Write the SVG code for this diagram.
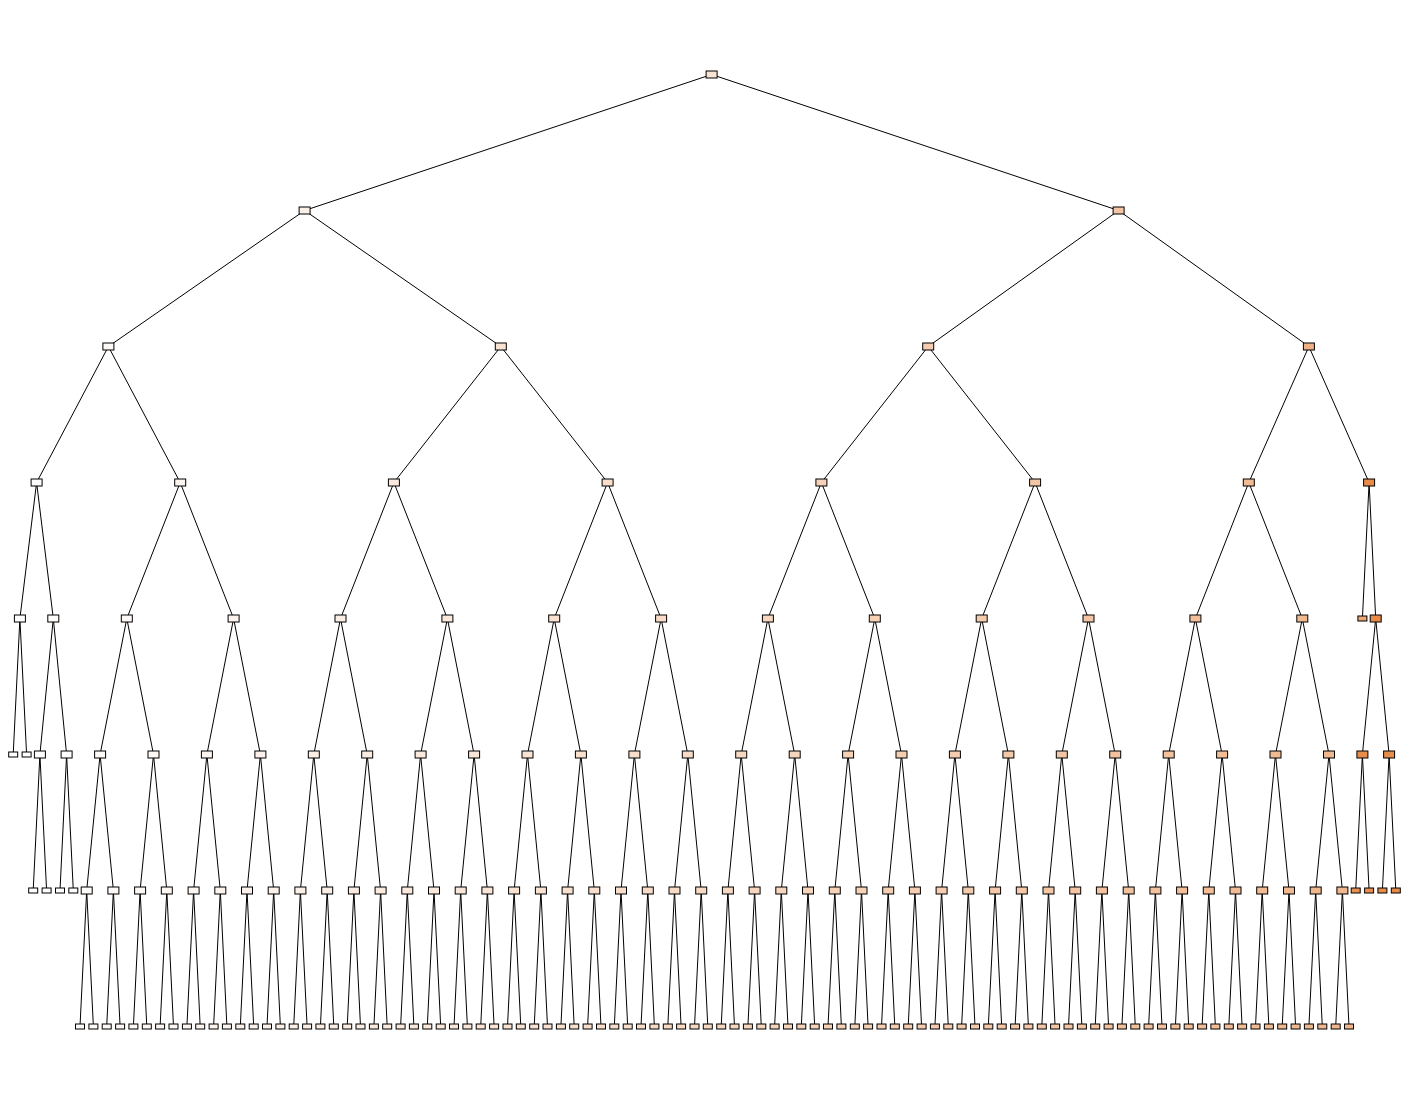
<svg xmlns="http://www.w3.org/2000/svg" width="1409" height="1101" viewBox="0 0 1409 1101">
<style>
#edges line{stroke:#000;stroke-width:1}
.box{stroke:#000;stroke-width:1}
</style>
<defs>
<rect id="I" class="box" x="-5.5" y="-3.5" width="11" height="7"/>
<rect id="L" class="box" x="-4.5" y="-2.5" width="9" height="5"/>
</defs>
<rect width="1409" height="1101" fill="#fff"/>
<g id="edges">
<line x1="711.6" y1="74.5" x2="304.6" y2="210.5"/>
<line x1="711.6" y1="74.5" x2="1118.6" y2="210.5"/>
<line x1="304.6" y1="210.5" x2="108.4" y2="346.5"/>
<line x1="304.6" y1="210.5" x2="500.8" y2="346.5"/>
<line x1="1118.6" y1="210.5" x2="928.2" y2="346.5"/>
<line x1="1118.6" y1="210.5" x2="1308.9" y2="346.5"/>
<line x1="108.4" y1="346.5" x2="36.6" y2="482.5"/>
<line x1="108.4" y1="346.5" x2="180.2" y2="482.5"/>
<line x1="500.8" y1="346.5" x2="393.9" y2="482.5"/>
<line x1="500.8" y1="346.5" x2="607.6" y2="482.5"/>
<line x1="928.2" y1="346.5" x2="821.4" y2="482.5"/>
<line x1="928.2" y1="346.5" x2="1035.1" y2="482.5"/>
<line x1="1308.9" y1="346.5" x2="1248.8" y2="482.5"/>
<line x1="1308.9" y1="346.5" x2="1369.1" y2="482.5"/>
<line x1="36.6" y1="482.5" x2="19.9" y2="618.5"/>
<line x1="36.6" y1="482.5" x2="53.3" y2="618.5"/>
<line x1="180.2" y1="482.5" x2="126.8" y2="618.5"/>
<line x1="180.2" y1="482.5" x2="233.6" y2="618.5"/>
<line x1="393.9" y1="482.5" x2="340.5" y2="618.5"/>
<line x1="393.9" y1="482.5" x2="447.4" y2="618.5"/>
<line x1="607.6" y1="482.5" x2="554.2" y2="618.5"/>
<line x1="607.6" y1="482.5" x2="661.1" y2="618.5"/>
<line x1="821.4" y1="482.5" x2="767.9" y2="618.5"/>
<line x1="821.4" y1="482.5" x2="874.8" y2="618.5"/>
<line x1="1035.1" y1="482.5" x2="981.7" y2="618.5"/>
<line x1="1035.1" y1="482.5" x2="1088.5" y2="618.5"/>
<line x1="1248.8" y1="482.5" x2="1195.4" y2="618.5"/>
<line x1="1248.8" y1="482.5" x2="1302.3" y2="618.5"/>
<line x1="1369.1" y1="482.5" x2="1362.4" y2="618.5"/>
<line x1="1369.1" y1="482.5" x2="1375.7" y2="618.5"/>
<line x1="19.9" y1="618.5" x2="13.2" y2="754.5"/>
<line x1="19.9" y1="618.5" x2="26.6" y2="754.5"/>
<line x1="53.3" y1="618.5" x2="39.9" y2="754.5"/>
<line x1="53.3" y1="618.5" x2="66.6" y2="754.5"/>
<line x1="126.8" y1="618.5" x2="100.1" y2="754.5"/>
<line x1="126.8" y1="618.5" x2="153.5" y2="754.5"/>
<line x1="233.6" y1="618.5" x2="206.9" y2="754.5"/>
<line x1="233.6" y1="618.5" x2="260.4" y2="754.5"/>
<line x1="340.5" y1="618.5" x2="313.8" y2="754.5"/>
<line x1="340.5" y1="618.5" x2="367.2" y2="754.5"/>
<line x1="447.4" y1="618.5" x2="420.6" y2="754.5"/>
<line x1="447.4" y1="618.5" x2="474.1" y2="754.5"/>
<line x1="554.2" y1="618.5" x2="527.5" y2="754.5"/>
<line x1="554.2" y1="618.5" x2="580.9" y2="754.5"/>
<line x1="661.1" y1="618.5" x2="634.4" y2="754.5"/>
<line x1="661.1" y1="618.5" x2="687.8" y2="754.5"/>
<line x1="767.9" y1="618.5" x2="741.2" y2="754.5"/>
<line x1="767.9" y1="618.5" x2="794.7" y2="754.5"/>
<line x1="874.8" y1="618.5" x2="848.1" y2="754.5"/>
<line x1="874.8" y1="618.5" x2="901.5" y2="754.5"/>
<line x1="981.7" y1="618.5" x2="954.9" y2="754.5"/>
<line x1="981.7" y1="618.5" x2="1008.4" y2="754.5"/>
<line x1="1088.5" y1="618.5" x2="1061.8" y2="754.5"/>
<line x1="1088.5" y1="618.5" x2="1115.2" y2="754.5"/>
<line x1="1195.4" y1="618.5" x2="1168.7" y2="754.5"/>
<line x1="1195.4" y1="618.5" x2="1222.1" y2="754.5"/>
<line x1="1302.3" y1="618.5" x2="1275.5" y2="754.5"/>
<line x1="1302.3" y1="618.5" x2="1329.0" y2="754.5"/>
<line x1="1375.7" y1="618.5" x2="1362.4" y2="754.5"/>
<line x1="1375.7" y1="618.5" x2="1389.1" y2="754.5"/>
<line x1="39.9" y1="754.5" x2="33.2" y2="890.5"/>
<line x1="39.9" y1="754.5" x2="46.6" y2="890.5"/>
<line x1="66.6" y1="754.5" x2="60.0" y2="890.5"/>
<line x1="66.6" y1="754.5" x2="73.3" y2="890.5"/>
<line x1="100.1" y1="754.5" x2="86.7" y2="890.5"/>
<line x1="100.1" y1="754.5" x2="113.4" y2="890.5"/>
<line x1="153.5" y1="754.5" x2="140.1" y2="890.5"/>
<line x1="153.5" y1="754.5" x2="166.8" y2="890.5"/>
<line x1="206.9" y1="754.5" x2="193.6" y2="890.5"/>
<line x1="206.9" y1="754.5" x2="220.3" y2="890.5"/>
<line x1="260.4" y1="754.5" x2="247.0" y2="890.5"/>
<line x1="260.4" y1="754.5" x2="273.7" y2="890.5"/>
<line x1="313.8" y1="754.5" x2="300.4" y2="890.5"/>
<line x1="313.8" y1="754.5" x2="327.2" y2="890.5"/>
<line x1="367.2" y1="754.5" x2="353.9" y2="890.5"/>
<line x1="367.2" y1="754.5" x2="380.6" y2="890.5"/>
<line x1="420.6" y1="754.5" x2="407.3" y2="890.5"/>
<line x1="420.6" y1="754.5" x2="434.0" y2="890.5"/>
<line x1="474.1" y1="754.5" x2="460.7" y2="890.5"/>
<line x1="474.1" y1="754.5" x2="487.4" y2="890.5"/>
<line x1="527.5" y1="754.5" x2="514.1" y2="890.5"/>
<line x1="527.5" y1="754.5" x2="540.9" y2="890.5"/>
<line x1="580.9" y1="754.5" x2="567.6" y2="890.5"/>
<line x1="580.9" y1="754.5" x2="594.3" y2="890.5"/>
<line x1="634.4" y1="754.5" x2="621.0" y2="890.5"/>
<line x1="634.4" y1="754.5" x2="647.8" y2="890.5"/>
<line x1="687.8" y1="754.5" x2="674.5" y2="890.5"/>
<line x1="687.8" y1="754.5" x2="701.2" y2="890.5"/>
<line x1="741.2" y1="754.5" x2="727.9" y2="890.5"/>
<line x1="741.2" y1="754.5" x2="754.6" y2="890.5"/>
<line x1="794.7" y1="754.5" x2="781.3" y2="890.5"/>
<line x1="794.7" y1="754.5" x2="808.0" y2="890.5"/>
<line x1="848.1" y1="754.5" x2="834.8" y2="890.5"/>
<line x1="848.1" y1="754.5" x2="861.5" y2="890.5"/>
<line x1="901.5" y1="754.5" x2="888.2" y2="890.5"/>
<line x1="901.5" y1="754.5" x2="914.9" y2="890.5"/>
<line x1="954.9" y1="754.5" x2="941.6" y2="890.5"/>
<line x1="954.9" y1="754.5" x2="968.3" y2="890.5"/>
<line x1="1008.4" y1="754.5" x2="995.1" y2="890.5"/>
<line x1="1008.4" y1="754.5" x2="1021.8" y2="890.5"/>
<line x1="1061.8" y1="754.5" x2="1048.5" y2="890.5"/>
<line x1="1061.8" y1="754.5" x2="1075.2" y2="890.5"/>
<line x1="1115.2" y1="754.5" x2="1101.9" y2="890.5"/>
<line x1="1115.2" y1="754.5" x2="1128.7" y2="890.5"/>
<line x1="1168.7" y1="754.5" x2="1155.4" y2="890.5"/>
<line x1="1168.7" y1="754.5" x2="1182.1" y2="890.5"/>
<line x1="1222.1" y1="754.5" x2="1208.8" y2="890.5"/>
<line x1="1222.1" y1="754.5" x2="1235.5" y2="890.5"/>
<line x1="1275.5" y1="754.5" x2="1262.2" y2="890.5"/>
<line x1="1275.5" y1="754.5" x2="1289.0" y2="890.5"/>
<line x1="1329.0" y1="754.5" x2="1315.7" y2="890.5"/>
<line x1="1329.0" y1="754.5" x2="1342.4" y2="890.5"/>
<line x1="1362.4" y1="754.5" x2="1355.7" y2="890.5"/>
<line x1="1362.4" y1="754.5" x2="1369.1" y2="890.5"/>
<line x1="1389.1" y1="754.5" x2="1382.4" y2="890.5"/>
<line x1="1389.1" y1="754.5" x2="1395.8" y2="890.5"/>
<line x1="86.7" y1="890.5" x2="80.0" y2="1026.5"/>
<line x1="86.7" y1="890.5" x2="93.4" y2="1026.5"/>
<line x1="113.4" y1="890.5" x2="106.7" y2="1026.5"/>
<line x1="113.4" y1="890.5" x2="120.1" y2="1026.5"/>
<line x1="140.1" y1="890.5" x2="133.4" y2="1026.5"/>
<line x1="140.1" y1="890.5" x2="146.8" y2="1026.5"/>
<line x1="166.8" y1="890.5" x2="160.1" y2="1026.5"/>
<line x1="166.8" y1="890.5" x2="173.5" y2="1026.5"/>
<line x1="193.6" y1="890.5" x2="186.9" y2="1026.5"/>
<line x1="193.6" y1="890.5" x2="200.2" y2="1026.5"/>
<line x1="220.3" y1="890.5" x2="213.6" y2="1026.5"/>
<line x1="220.3" y1="890.5" x2="226.9" y2="1026.5"/>
<line x1="247.0" y1="890.5" x2="240.3" y2="1026.5"/>
<line x1="247.0" y1="890.5" x2="253.7" y2="1026.5"/>
<line x1="273.7" y1="890.5" x2="267.0" y2="1026.5"/>
<line x1="273.7" y1="890.5" x2="280.4" y2="1026.5"/>
<line x1="300.4" y1="890.5" x2="293.7" y2="1026.5"/>
<line x1="300.4" y1="890.5" x2="307.1" y2="1026.5"/>
<line x1="327.2" y1="890.5" x2="320.4" y2="1026.5"/>
<line x1="327.2" y1="890.5" x2="333.8" y2="1026.5"/>
<line x1="353.9" y1="890.5" x2="347.2" y2="1026.5"/>
<line x1="353.9" y1="890.5" x2="360.5" y2="1026.5"/>
<line x1="380.6" y1="890.5" x2="373.9" y2="1026.5"/>
<line x1="380.6" y1="890.5" x2="387.2" y2="1026.5"/>
<line x1="407.3" y1="890.5" x2="400.6" y2="1026.5"/>
<line x1="407.3" y1="890.5" x2="413.9" y2="1026.5"/>
<line x1="434.0" y1="890.5" x2="427.3" y2="1026.5"/>
<line x1="434.0" y1="890.5" x2="440.7" y2="1026.5"/>
<line x1="460.7" y1="890.5" x2="454.0" y2="1026.5"/>
<line x1="460.7" y1="890.5" x2="467.4" y2="1026.5"/>
<line x1="487.4" y1="890.5" x2="480.7" y2="1026.5"/>
<line x1="487.4" y1="890.5" x2="494.1" y2="1026.5"/>
<line x1="514.1" y1="890.5" x2="507.5" y2="1026.5"/>
<line x1="514.1" y1="890.5" x2="520.8" y2="1026.5"/>
<line x1="540.9" y1="890.5" x2="534.2" y2="1026.5"/>
<line x1="540.9" y1="890.5" x2="547.5" y2="1026.5"/>
<line x1="567.6" y1="890.5" x2="560.9" y2="1026.5"/>
<line x1="567.6" y1="890.5" x2="574.2" y2="1026.5"/>
<line x1="594.3" y1="890.5" x2="587.6" y2="1026.5"/>
<line x1="594.3" y1="890.5" x2="601.0" y2="1026.5"/>
<line x1="621.0" y1="890.5" x2="614.3" y2="1026.5"/>
<line x1="621.0" y1="890.5" x2="627.7" y2="1026.5"/>
<line x1="647.8" y1="890.5" x2="641.0" y2="1026.5"/>
<line x1="647.8" y1="890.5" x2="654.4" y2="1026.5"/>
<line x1="674.5" y1="890.5" x2="667.8" y2="1026.5"/>
<line x1="674.5" y1="890.5" x2="681.1" y2="1026.5"/>
<line x1="701.2" y1="890.5" x2="694.5" y2="1026.5"/>
<line x1="701.2" y1="890.5" x2="707.8" y2="1026.5"/>
<line x1="727.9" y1="890.5" x2="721.2" y2="1026.5"/>
<line x1="727.9" y1="890.5" x2="734.5" y2="1026.5"/>
<line x1="754.6" y1="890.5" x2="747.9" y2="1026.5"/>
<line x1="754.6" y1="890.5" x2="761.3" y2="1026.5"/>
<line x1="781.3" y1="890.5" x2="774.6" y2="1026.5"/>
<line x1="781.3" y1="890.5" x2="788.0" y2="1026.5"/>
<line x1="808.0" y1="890.5" x2="801.3" y2="1026.5"/>
<line x1="808.0" y1="890.5" x2="814.7" y2="1026.5"/>
<line x1="834.8" y1="890.5" x2="828.0" y2="1026.5"/>
<line x1="834.8" y1="890.5" x2="841.4" y2="1026.5"/>
<line x1="861.5" y1="890.5" x2="854.8" y2="1026.5"/>
<line x1="861.5" y1="890.5" x2="868.1" y2="1026.5"/>
<line x1="888.2" y1="890.5" x2="881.5" y2="1026.5"/>
<line x1="888.2" y1="890.5" x2="894.8" y2="1026.5"/>
<line x1="914.9" y1="890.5" x2="908.2" y2="1026.5"/>
<line x1="914.9" y1="890.5" x2="921.6" y2="1026.5"/>
<line x1="941.6" y1="890.5" x2="934.9" y2="1026.5"/>
<line x1="941.6" y1="890.5" x2="948.3" y2="1026.5"/>
<line x1="968.3" y1="890.5" x2="961.6" y2="1026.5"/>
<line x1="968.3" y1="890.5" x2="975.0" y2="1026.5"/>
<line x1="995.1" y1="890.5" x2="988.3" y2="1026.5"/>
<line x1="995.1" y1="890.5" x2="1001.7" y2="1026.5"/>
<line x1="1021.8" y1="890.5" x2="1015.1" y2="1026.5"/>
<line x1="1021.8" y1="890.5" x2="1028.4" y2="1026.5"/>
<line x1="1048.5" y1="890.5" x2="1041.8" y2="1026.5"/>
<line x1="1048.5" y1="890.5" x2="1055.1" y2="1026.5"/>
<line x1="1075.2" y1="890.5" x2="1068.5" y2="1026.5"/>
<line x1="1075.2" y1="890.5" x2="1081.9" y2="1026.5"/>
<line x1="1101.9" y1="890.5" x2="1095.2" y2="1026.5"/>
<line x1="1101.9" y1="890.5" x2="1108.6" y2="1026.5"/>
<line x1="1128.7" y1="890.5" x2="1121.9" y2="1026.5"/>
<line x1="1128.7" y1="890.5" x2="1135.3" y2="1026.5"/>
<line x1="1155.4" y1="890.5" x2="1148.6" y2="1026.5"/>
<line x1="1155.4" y1="890.5" x2="1162.0" y2="1026.5"/>
<line x1="1182.1" y1="890.5" x2="1175.4" y2="1026.5"/>
<line x1="1182.1" y1="890.5" x2="1188.7" y2="1026.5"/>
<line x1="1208.8" y1="890.5" x2="1202.1" y2="1026.5"/>
<line x1="1208.8" y1="890.5" x2="1215.4" y2="1026.5"/>
<line x1="1235.5" y1="890.5" x2="1228.8" y2="1026.5"/>
<line x1="1235.5" y1="890.5" x2="1242.1" y2="1026.5"/>
<line x1="1262.2" y1="890.5" x2="1255.5" y2="1026.5"/>
<line x1="1262.2" y1="890.5" x2="1268.9" y2="1026.5"/>
<line x1="1289.0" y1="890.5" x2="1282.2" y2="1026.5"/>
<line x1="1289.0" y1="890.5" x2="1295.6" y2="1026.5"/>
<line x1="1315.7" y1="890.5" x2="1308.9" y2="1026.5"/>
<line x1="1315.7" y1="890.5" x2="1322.3" y2="1026.5"/>
<line x1="1342.4" y1="890.5" x2="1335.7" y2="1026.5"/>
<line x1="1342.4" y1="890.5" x2="1349.0" y2="1026.5"/>
</g>
<g id="nodes">
<g id="n-root"><use href="#I" x="711.6" y="74.5" fill="#f9e3d3"/></g>
<g id="n-A"><use href="#I" x="304.6" y="210.5" fill="#fcf1e8"/></g>
<g id="n-B"><use href="#I" x="1118.6" y="210.5" fill="#f3c5a4"/></g>
<g id="n-A1"><use href="#I" x="108.4" y="346.5" fill="#fefaf7"/></g>
<g id="n-A2"><use href="#I" x="500.8" y="346.5" fill="#f9e4d4"/></g>
<g id="n-B1"><use href="#I" x="928.2" y="346.5" fill="#f5ccaf"/></g>
<g id="n-B2"><use href="#I" x="1308.9" y="346.5" fill="#efb184"/></g>
<g id="n-c0"><use href="#I" x="36.6" y="482.5" fill="#fffefd"/></g>
<g id="n-c1"><use href="#I" x="180.2" y="482.5" fill="#fdf5ef"/></g>
<g id="n-c2"><use href="#I" x="393.9" y="482.5" fill="#fbe9dd"/></g>
<g id="n-c3"><use href="#I" x="607.6" y="482.5" fill="#f8decb"/></g>
<g id="n-c4"><use href="#I" x="821.4" y="482.5" fill="#f6d2b8"/></g>
<g id="n-c5"><use href="#I" x="1035.1" y="482.5" fill="#f3c6a6"/></g>
<g id="n-c6"><use href="#I" x="1248.8" y="482.5" fill="#f1bb94"/></g>
<g id="n-c7"><use href="#I" x="1369.1" y="482.5" fill="#e78b49"/></g>
<g id="n-dl0"><use href="#I" x="19.9" y="618.5" fill="#ffffff"/></g>
<g id="n-dl1"><use href="#I" x="53.3" y="618.5" fill="#fffefc"/></g>
<g id="n-d0"><use href="#I" x="126.8" y="618.5" fill="#fef9f6"/></g>
<g id="n-d1"><use href="#I" x="233.6" y="618.5" fill="#fdf4ed"/></g>
<g id="n-d2"><use href="#I" x="340.5" y="618.5" fill="#fbeee4"/></g>
<g id="n-d3"><use href="#I" x="447.4" y="618.5" fill="#fae8db"/></g>
<g id="n-d4"><use href="#I" x="554.2" y="618.5" fill="#f9e2d2"/></g>
<g id="n-d5"><use href="#I" x="661.1" y="618.5" fill="#f8dcc8"/></g>
<g id="n-d6"><use href="#I" x="767.9" y="618.5" fill="#f7d6bf"/></g>
<g id="n-d7"><use href="#I" x="874.8" y="618.5" fill="#f5d1b6"/></g>
<g id="n-d8"><use href="#I" x="981.7" y="618.5" fill="#f4cbad"/></g>
<g id="n-d9"><use href="#I" x="1088.5" y="618.5" fill="#f3c5a4"/></g>
<g id="n-d10"><use href="#I" x="1195.4" y="618.5" fill="#f2bf9a"/></g>
<g id="n-d11"><use href="#I" x="1302.3" y="618.5" fill="#f1b991"/></g>
<g id="n-dr0"><use href="#L" x="1362.4" y="618.5" fill="#eda774"/></g>
<g id="n-dr1"><use href="#I" x="1375.7" y="618.5" fill="#e78b49"/></g>
<g id="n-el0"><use href="#L" x="13.2" y="754.5" fill="#ffffff"/></g>
<g id="n-el1"><use href="#L" x="26.6" y="754.5" fill="#ffffff"/></g>
<g id="n-el2"><use href="#I" x="39.9" y="754.5" fill="#fffefd"/></g>
<g id="n-el3"><use href="#I" x="66.6" y="754.5" fill="#fffdfb"/></g>
<g id="n-e0"><use href="#I" x="100.1" y="754.5" fill="#fefbf8"/></g>
<g id="n-e1"><use href="#I" x="153.5" y="754.5" fill="#fef8f4"/></g>
<g id="n-e2"><use href="#I" x="206.9" y="754.5" fill="#fdf5ef"/></g>
<g id="n-e3"><use href="#I" x="260.4" y="754.5" fill="#fcf2eb"/></g>
<g id="n-e4"><use href="#I" x="313.8" y="754.5" fill="#fcefe6"/></g>
<g id="n-e5"><use href="#I" x="367.2" y="754.5" fill="#fbece2"/></g>
<g id="n-e6"><use href="#I" x="420.6" y="754.5" fill="#fbe9dd"/></g>
<g id="n-e7"><use href="#I" x="474.1" y="754.5" fill="#fae6d8"/></g>
<g id="n-e8"><use href="#I" x="527.5" y="754.5" fill="#f9e4d4"/></g>
<g id="n-e9"><use href="#I" x="580.9" y="754.5" fill="#f9e1cf"/></g>
<g id="n-e10"><use href="#I" x="634.4" y="754.5" fill="#f8decb"/></g>
<g id="n-e11"><use href="#I" x="687.8" y="754.5" fill="#f8dbc6"/></g>
<g id="n-e12"><use href="#I" x="741.2" y="754.5" fill="#f7d8c1"/></g>
<g id="n-e13"><use href="#I" x="794.7" y="754.5" fill="#f6d5bd"/></g>
<g id="n-e14"><use href="#I" x="848.1" y="754.5" fill="#f6d2b8"/></g>
<g id="n-e15"><use href="#I" x="901.5" y="754.5" fill="#f5cfb4"/></g>
<g id="n-e16"><use href="#I" x="954.9" y="754.5" fill="#f5ccaf"/></g>
<g id="n-e17"><use href="#I" x="1008.4" y="754.5" fill="#f4c9aa"/></g>
<g id="n-e18"><use href="#I" x="1061.8" y="754.5" fill="#f3c6a6"/></g>
<g id="n-e19"><use href="#I" x="1115.2" y="754.5" fill="#f3c3a1"/></g>
<g id="n-e20"><use href="#I" x="1168.7" y="754.5" fill="#f2c19d"/></g>
<g id="n-e21"><use href="#I" x="1222.1" y="754.5" fill="#f2be98"/></g>
<g id="n-e22"><use href="#I" x="1275.5" y="754.5" fill="#f1bb94"/></g>
<g id="n-e23"><use href="#I" x="1329.0" y="754.5" fill="#f0b88f"/></g>
<g id="n-er0"><use href="#I" x="1362.4" y="754.5" fill="#e88e4d"/></g>
<g id="n-er1"><use href="#I" x="1389.1" y="754.5" fill="#e88e4d"/></g>
<g id="n-fl0"><use href="#L" x="33.2" y="890.5" fill="#fffefd"/></g>
<g id="n-fl1"><use href="#L" x="46.6" y="890.5" fill="#fffefd"/></g>
<g id="n-fl2"><use href="#L" x="60.0" y="890.5" fill="#fffdfb"/></g>
<g id="n-fl3"><use href="#L" x="73.3" y="890.5" fill="#fffdfb"/></g>
<g id="n-f0"><use href="#I" x="86.7" y="890.5" fill="#fefbf8"/></g>
<g id="n-f1"><use href="#I" x="113.4" y="890.5" fill="#fef9f6"/></g>
<g id="n-f2"><use href="#I" x="140.1" y="890.5" fill="#fef8f4"/></g>
<g id="n-f3"><use href="#I" x="166.8" y="890.5" fill="#fdf6f2"/></g>
<g id="n-f4"><use href="#I" x="193.6" y="890.5" fill="#fdf5ef"/></g>
<g id="n-f5"><use href="#I" x="220.3" y="890.5" fill="#fdf4ed"/></g>
<g id="n-f6"><use href="#I" x="247.0" y="890.5" fill="#fcf2eb"/></g>
<g id="n-f7"><use href="#I" x="273.7" y="890.5" fill="#fcf1e8"/></g>
<g id="n-f8"><use href="#I" x="300.4" y="890.5" fill="#fcefe6"/></g>
<g id="n-f9"><use href="#I" x="327.2" y="890.5" fill="#fbeee4"/></g>
<g id="n-f10"><use href="#I" x="353.9" y="890.5" fill="#fbece2"/></g>
<g id="n-f11"><use href="#I" x="380.6" y="890.5" fill="#fbebdf"/></g>
<g id="n-f12"><use href="#I" x="407.3" y="890.5" fill="#fbe9dd"/></g>
<g id="n-f13"><use href="#I" x="434.0" y="890.5" fill="#fae8db"/></g>
<g id="n-f14"><use href="#I" x="460.7" y="890.5" fill="#fae6d8"/></g>
<g id="n-f15"><use href="#I" x="487.4" y="890.5" fill="#fae5d6"/></g>
<g id="n-f16"><use href="#I" x="514.1" y="890.5" fill="#f9e4d4"/></g>
<g id="n-f17"><use href="#I" x="540.9" y="890.5" fill="#f9e2d2"/></g>
<g id="n-f18"><use href="#I" x="567.6" y="890.5" fill="#f9e1cf"/></g>
<g id="n-f19"><use href="#I" x="594.3" y="890.5" fill="#f8dfcd"/></g>
<g id="n-f20"><use href="#I" x="621.0" y="890.5" fill="#f8decb"/></g>
<g id="n-f21"><use href="#I" x="647.8" y="890.5" fill="#f8dcc8"/></g>
<g id="n-f22"><use href="#I" x="674.5" y="890.5" fill="#f8dbc6"/></g>
<g id="n-f23"><use href="#I" x="701.2" y="890.5" fill="#f7d9c4"/></g>
<g id="n-f24"><use href="#I" x="727.9" y="890.5" fill="#f7d8c1"/></g>
<g id="n-f25"><use href="#I" x="754.6" y="890.5" fill="#f7d6bf"/></g>
<g id="n-f26"><use href="#I" x="781.3" y="890.5" fill="#f6d5bd"/></g>
<g id="n-f27"><use href="#I" x="808.0" y="890.5" fill="#f6d3bb"/></g>
<g id="n-f28"><use href="#I" x="834.8" y="890.5" fill="#f6d2b8"/></g>
<g id="n-f29"><use href="#I" x="861.5" y="890.5" fill="#f5d1b6"/></g>
<g id="n-f30"><use href="#I" x="888.2" y="890.5" fill="#f5cfb4"/></g>
<g id="n-f31"><use href="#I" x="914.9" y="890.5" fill="#f5ceb1"/></g>
<g id="n-f32"><use href="#I" x="941.6" y="890.5" fill="#f5ccaf"/></g>
<g id="n-f33"><use href="#I" x="968.3" y="890.5" fill="#f4cbad"/></g>
<g id="n-f34"><use href="#I" x="995.1" y="890.5" fill="#f4c9aa"/></g>
<g id="n-f35"><use href="#I" x="1021.8" y="890.5" fill="#f4c8a8"/></g>
<g id="n-f36"><use href="#I" x="1048.5" y="890.5" fill="#f3c6a6"/></g>
<g id="n-f37"><use href="#I" x="1075.2" y="890.5" fill="#f3c5a4"/></g>
<g id="n-f38"><use href="#I" x="1101.9" y="890.5" fill="#f3c3a1"/></g>
<g id="n-f39"><use href="#I" x="1128.7" y="890.5" fill="#f2c29f"/></g>
<g id="n-f40"><use href="#I" x="1155.4" y="890.5" fill="#f2c19d"/></g>
<g id="n-f41"><use href="#I" x="1182.1" y="890.5" fill="#f2bf9a"/></g>
<g id="n-f42"><use href="#I" x="1208.8" y="890.5" fill="#f2be98"/></g>
<g id="n-f43"><use href="#I" x="1235.5" y="890.5" fill="#f1bc96"/></g>
<g id="n-f44"><use href="#I" x="1262.2" y="890.5" fill="#f1bb94"/></g>
<g id="n-f45"><use href="#I" x="1289.0" y="890.5" fill="#f1b991"/></g>
<g id="n-f46"><use href="#I" x="1315.7" y="890.5" fill="#f0b88f"/></g>
<g id="n-f47"><use href="#I" x="1342.4" y="890.5" fill="#f0b68d"/></g>
<g id="n-fr0"><use href="#L" x="1355.7" y="890.5" fill="#e89051"/></g>
<g id="n-fr1"><use href="#L" x="1369.1" y="890.5" fill="#e89051"/></g>
<g id="n-fr2"><use href="#L" x="1382.4" y="890.5" fill="#e78d4c"/></g>
<g id="n-fr3"><use href="#L" x="1395.8" y="890.5" fill="#e68a48"/></g>
<g id="n-g0"><use href="#L" x="80.0" y="1026.5" fill="#fefbf8"/></g>
<g id="n-g1"><use href="#L" x="93.4" y="1026.5" fill="#fefbf8"/></g>
<g id="n-g2"><use href="#L" x="106.7" y="1026.5" fill="#fef9f6"/></g>
<g id="n-g3"><use href="#L" x="120.1" y="1026.5" fill="#fef9f6"/></g>
<g id="n-g4"><use href="#L" x="133.4" y="1026.5" fill="#fef8f4"/></g>
<g id="n-g5"><use href="#L" x="146.8" y="1026.5" fill="#fef8f4"/></g>
<g id="n-g6"><use href="#L" x="160.1" y="1026.5" fill="#fdf6f2"/></g>
<g id="n-g7"><use href="#L" x="173.5" y="1026.5" fill="#fdf6f2"/></g>
<g id="n-g8"><use href="#L" x="186.9" y="1026.5" fill="#fdf5ef"/></g>
<g id="n-g9"><use href="#L" x="200.2" y="1026.5" fill="#fdf5ef"/></g>
<g id="n-g10"><use href="#L" x="213.6" y="1026.5" fill="#fdf4ed"/></g>
<g id="n-g11"><use href="#L" x="226.9" y="1026.5" fill="#fdf4ed"/></g>
<g id="n-g12"><use href="#L" x="240.3" y="1026.5" fill="#fcf2eb"/></g>
<g id="n-g13"><use href="#L" x="253.7" y="1026.5" fill="#fcf2eb"/></g>
<g id="n-g14"><use href="#L" x="267.0" y="1026.5" fill="#fcf1e8"/></g>
<g id="n-g15"><use href="#L" x="280.4" y="1026.5" fill="#fcf1e8"/></g>
<g id="n-g16"><use href="#L" x="293.7" y="1026.5" fill="#fcefe6"/></g>
<g id="n-g17"><use href="#L" x="307.1" y="1026.5" fill="#fcefe6"/></g>
<g id="n-g18"><use href="#L" x="320.4" y="1026.5" fill="#fbeee4"/></g>
<g id="n-g19"><use href="#L" x="333.8" y="1026.5" fill="#fbeee4"/></g>
<g id="n-g20"><use href="#L" x="347.2" y="1026.5" fill="#fbece2"/></g>
<g id="n-g21"><use href="#L" x="360.5" y="1026.5" fill="#fbece2"/></g>
<g id="n-g22"><use href="#L" x="373.9" y="1026.5" fill="#fbebdf"/></g>
<g id="n-g23"><use href="#L" x="387.2" y="1026.5" fill="#fbebdf"/></g>
<g id="n-g24"><use href="#L" x="400.6" y="1026.5" fill="#fbe9dd"/></g>
<g id="n-g25"><use href="#L" x="413.9" y="1026.5" fill="#fbe9dd"/></g>
<g id="n-g26"><use href="#L" x="427.3" y="1026.5" fill="#fae8db"/></g>
<g id="n-g27"><use href="#L" x="440.7" y="1026.5" fill="#fae8db"/></g>
<g id="n-g28"><use href="#L" x="454.0" y="1026.5" fill="#fae6d8"/></g>
<g id="n-g29"><use href="#L" x="467.4" y="1026.5" fill="#fae6d8"/></g>
<g id="n-g30"><use href="#L" x="480.7" y="1026.5" fill="#fae5d6"/></g>
<g id="n-g31"><use href="#L" x="494.1" y="1026.5" fill="#fae5d6"/></g>
<g id="n-g32"><use href="#L" x="507.5" y="1026.5" fill="#f9e4d4"/></g>
<g id="n-g33"><use href="#L" x="520.8" y="1026.5" fill="#f9e4d4"/></g>
<g id="n-g34"><use href="#L" x="534.2" y="1026.5" fill="#f9e2d2"/></g>
<g id="n-g35"><use href="#L" x="547.5" y="1026.5" fill="#f9e2d2"/></g>
<g id="n-g36"><use href="#L" x="560.9" y="1026.5" fill="#f9e1cf"/></g>
<g id="n-g37"><use href="#L" x="574.2" y="1026.5" fill="#f9e1cf"/></g>
<g id="n-g38"><use href="#L" x="587.6" y="1026.5" fill="#f8dfcd"/></g>
<g id="n-g39"><use href="#L" x="601.0" y="1026.5" fill="#f8dfcd"/></g>
<g id="n-g40"><use href="#L" x="614.3" y="1026.5" fill="#f8decb"/></g>
<g id="n-g41"><use href="#L" x="627.7" y="1026.5" fill="#f8decb"/></g>
<g id="n-g42"><use href="#L" x="641.0" y="1026.5" fill="#f8dcc8"/></g>
<g id="n-g43"><use href="#L" x="654.4" y="1026.5" fill="#f8dcc8"/></g>
<g id="n-g44"><use href="#L" x="667.8" y="1026.5" fill="#f8dbc6"/></g>
<g id="n-g45"><use href="#L" x="681.1" y="1026.5" fill="#f8dbc6"/></g>
<g id="n-g46"><use href="#L" x="694.5" y="1026.5" fill="#f7d9c4"/></g>
<g id="n-g47"><use href="#L" x="707.8" y="1026.5" fill="#f7d9c4"/></g>
<g id="n-g48"><use href="#L" x="721.2" y="1026.5" fill="#f7d8c1"/></g>
<g id="n-g49"><use href="#L" x="734.5" y="1026.5" fill="#f7d8c1"/></g>
<g id="n-g50"><use href="#L" x="747.9" y="1026.5" fill="#f7d6bf"/></g>
<g id="n-g51"><use href="#L" x="761.3" y="1026.5" fill="#f7d6bf"/></g>
<g id="n-g52"><use href="#L" x="774.6" y="1026.5" fill="#f6d5bd"/></g>
<g id="n-g53"><use href="#L" x="788.0" y="1026.5" fill="#f6d5bd"/></g>
<g id="n-g54"><use href="#L" x="801.3" y="1026.5" fill="#f6d3bb"/></g>
<g id="n-g55"><use href="#L" x="814.7" y="1026.5" fill="#f6d3bb"/></g>
<g id="n-g56"><use href="#L" x="828.0" y="1026.5" fill="#f6d2b8"/></g>
<g id="n-g57"><use href="#L" x="841.4" y="1026.5" fill="#f6d2b8"/></g>
<g id="n-g58"><use href="#L" x="854.8" y="1026.5" fill="#f5d1b6"/></g>
<g id="n-g59"><use href="#L" x="868.1" y="1026.5" fill="#f5d1b6"/></g>
<g id="n-g60"><use href="#L" x="881.5" y="1026.5" fill="#f5cfb4"/></g>
<g id="n-g61"><use href="#L" x="894.8" y="1026.5" fill="#f5cfb4"/></g>
<g id="n-g62"><use href="#L" x="908.2" y="1026.5" fill="#f5ceb1"/></g>
<g id="n-g63"><use href="#L" x="921.6" y="1026.5" fill="#f5ceb1"/></g>
<g id="n-g64"><use href="#L" x="934.9" y="1026.5" fill="#f5ccaf"/></g>
<g id="n-g65"><use href="#L" x="948.3" y="1026.5" fill="#f5ccaf"/></g>
<g id="n-g66"><use href="#L" x="961.6" y="1026.5" fill="#f4cbad"/></g>
<g id="n-g67"><use href="#L" x="975.0" y="1026.5" fill="#f4cbad"/></g>
<g id="n-g68"><use href="#L" x="988.3" y="1026.5" fill="#f4c9aa"/></g>
<g id="n-g69"><use href="#L" x="1001.7" y="1026.5" fill="#f4c9aa"/></g>
<g id="n-g70"><use href="#L" x="1015.1" y="1026.5" fill="#f4c8a8"/></g>
<g id="n-g71"><use href="#L" x="1028.4" y="1026.5" fill="#f4c8a8"/></g>
<g id="n-g72"><use href="#L" x="1041.8" y="1026.5" fill="#f3c6a6"/></g>
<g id="n-g73"><use href="#L" x="1055.1" y="1026.5" fill="#f3c6a6"/></g>
<g id="n-g74"><use href="#L" x="1068.5" y="1026.5" fill="#f3c5a4"/></g>
<g id="n-g75"><use href="#L" x="1081.9" y="1026.5" fill="#f3c5a4"/></g>
<g id="n-g76"><use href="#L" x="1095.2" y="1026.5" fill="#f3c3a1"/></g>
<g id="n-g77"><use href="#L" x="1108.6" y="1026.5" fill="#f3c3a1"/></g>
<g id="n-g78"><use href="#L" x="1121.9" y="1026.5" fill="#f2c29f"/></g>
<g id="n-g79"><use href="#L" x="1135.3" y="1026.5" fill="#f2c29f"/></g>
<g id="n-g80"><use href="#L" x="1148.6" y="1026.5" fill="#f2c19d"/></g>
<g id="n-g81"><use href="#L" x="1162.0" y="1026.5" fill="#f2c19d"/></g>
<g id="n-g82"><use href="#L" x="1175.4" y="1026.5" fill="#f2bf9a"/></g>
<g id="n-g83"><use href="#L" x="1188.7" y="1026.5" fill="#f2bf9a"/></g>
<g id="n-g84"><use href="#L" x="1202.1" y="1026.5" fill="#f2be98"/></g>
<g id="n-g85"><use href="#L" x="1215.4" y="1026.5" fill="#f2be98"/></g>
<g id="n-g86"><use href="#L" x="1228.8" y="1026.5" fill="#f1bc96"/></g>
<g id="n-g87"><use href="#L" x="1242.1" y="1026.5" fill="#f1bc96"/></g>
<g id="n-g88"><use href="#L" x="1255.5" y="1026.5" fill="#f1bb94"/></g>
<g id="n-g89"><use href="#L" x="1268.9" y="1026.5" fill="#f1bb94"/></g>
<g id="n-g90"><use href="#L" x="1282.2" y="1026.5" fill="#f1b991"/></g>
<g id="n-g91"><use href="#L" x="1295.6" y="1026.5" fill="#f1b991"/></g>
<g id="n-g92"><use href="#L" x="1308.9" y="1026.5" fill="#f0b88f"/></g>
<g id="n-g93"><use href="#L" x="1322.3" y="1026.5" fill="#f0b88f"/></g>
<g id="n-g94"><use href="#L" x="1335.7" y="1026.5" fill="#f0b68d"/></g>
<g id="n-g95"><use href="#L" x="1349.0" y="1026.5" fill="#f0b68d"/></g>
</g>
</svg>
